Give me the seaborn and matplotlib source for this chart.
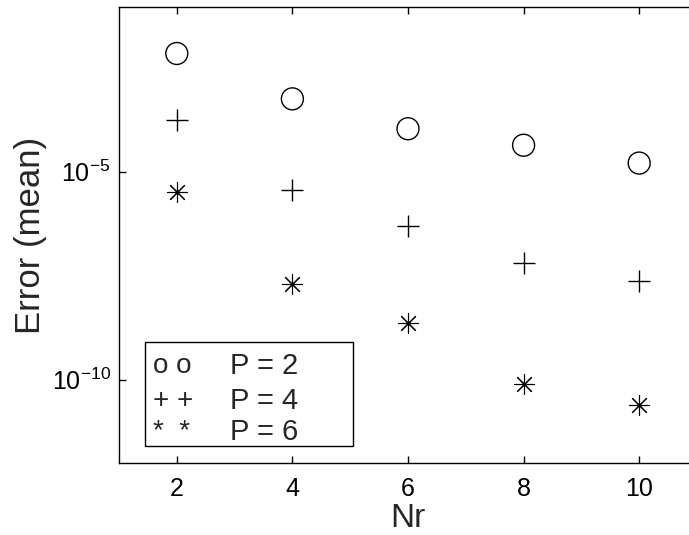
import numpy as np
import pandas as pd
import matplotlib
matplotlib.use("Agg")
import matplotlib.pyplot as plt
import seaborn as sns
from matplotlib.patches import Rectangle

# Mean error against number of radial nodes, for three polynomial orders
nr = [2, 4, 6, 8, 10]
err_p2 = [6.9e-3, 5.6e-4, 1.07e-4, 4.3e-5, 1.6e-5]
err_p4 = [1.7e-4, 3.7e-6, 4.8e-7, 6.5e-8, 2.3e-8]
err_p6 = [3.2e-6, 1.95e-8, 2.3e-9, 7.6e-11, 2.5e-11]

legend_keys = ["o o", "+ +", "*  *"]
legend_labels = ["P = 2", "P = 4", "P = 6"]
yticks = [1e-10, 1e-5]
ytick_labels = [r"$10^{-10}$", r"$10^{-5}$"]
xticks = [2, 4, 6, 8, 10]

sns.set_theme(style="white")
plt.rcParams["font.family"] = ["Liberation Sans", "DejaVu Sans"]
plt.rcParams["mathtext.fontset"] = "custom"
plt.rcParams["mathtext.rm"] = "Liberation Sans"
plt.rcParams["mathtext.it"] = "Liberation Sans"
plt.rcParams["mathtext.default"] = "regular"

fig = plt.figure(figsize=(6.89, 5.35), dpi=100)
ax = fig.add_axes([0.1727, 0.1351, 0.8389, 0.8513])

df = pd.DataFrame({
    "Nr": nr * 3,
    "err": err_p2 + err_p4 + err_p6,
    "P": ["2"] * 5 + ["4"] * 5 + ["6"] * 5,
})

sns.scatterplot(data=df[df.P == "2"], x="Nr", y="err", marker="o", s=250,
                facecolors="none", edgecolor="black", linewidth=1.0, ax=ax,
                legend=False)
sns.scatterplot(data=df[df.P == "4"], x="Nr", y="err", marker="+", s=250,
                color="black", linewidth=1.0, ax=ax, legend=False)
sns.scatterplot(data=df[df.P == "6"], x="Nr", y="err", marker=(8, 2, 0), s=210,
                color="black", linewidth=0.8, ax=ax, legend=False)

ax.set_yscale("log")
ax.set_xlim(1, 11)
ax.set_ylim(1e-12, 10 ** -1.05)
ax.set_xticks(xticks)
ax.set_xticklabels([str(v) for v in xticks])
ax.set_yticks(yticks)
ax.set_yticklabels(ytick_labels)
ax.minorticks_off()
ax.yaxis.set_minor_locator(matplotlib.ticker.NullLocator())

ax.tick_params(axis="both", which="major", direction="in", length=5, width=1.0,
               colors="black", labelsize=18, top=True, right=True, left=True,
               bottom=True)
ax.tick_params(axis="x", pad=10)
ax.tick_params(axis="y", pad=6)
for sp in ax.spines.values():
    sp.set_color("black")
    sp.set_linewidth(1.0)

ax.set_xlabel("Nr", fontsize=24, labelpad=2)
ax.set_ylabel("Error (mean)", fontsize=25)
ax.yaxis.set_label_coords(-0.125, 0.5)

# Boxed key in the lower-left corner
box = Rectangle((145, 535 - 446), 208, 446 - 342, transform=None,
                fill=True, facecolor="white", edgecolor="black", linewidth=1.0,
                zorder=5)
ax.add_artist(box)
rows_y = [366, 401, 432]
for key, lab, y in zip(legend_keys, legend_labels, rows_y):
    fig.text(153 / 689, 1 - y / 535, key, fontsize=20, va="center", ha="left",
             zorder=6)
    fig.text(230 / 689, 1 - y / 535, lab, fontsize=21, va="center", ha="left",
             zorder=6)

fig.savefig("out.png", dpi=100, facecolor="white")
